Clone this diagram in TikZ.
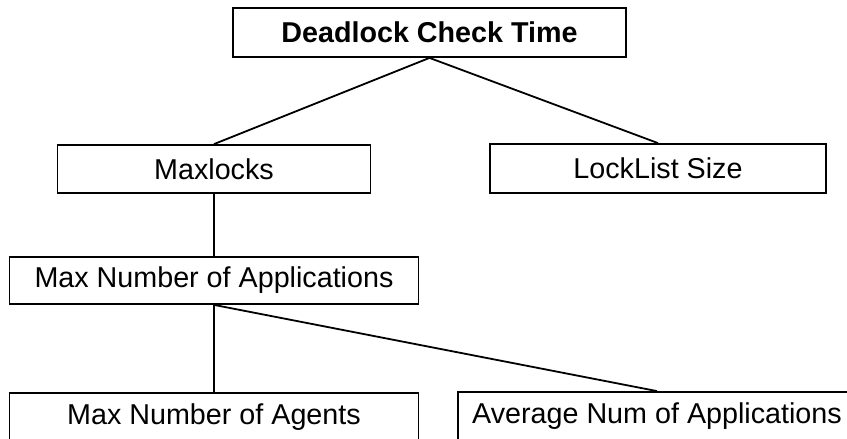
\documentclass[tikz,border=0pt]{standalone}
\usepackage{fontspec}
\setmainfont{Liberation Sans}
\begin{document}
\begin{tikzpicture}[x=1pt,y=-1pt,
  box/.style={draw, line width=1.8pt, inner sep=0pt, rectangle,
    font=\fontsize{28.7}{32}\selectfont},
  link/.style={line width=1.8pt}]
\useasboundingbox (0,0) rectangle (847,439);
\fill[white] (0,0) rectangle (847,439);
\node[box, minimum width=393pt, minimum height=49pt, font=\fontsize{28.7}{32}\selectfont\bfseries] (top) at (429.5,32.5) {Deadlock Check Time};
\node[box, minimum width=313pt, minimum height=48pt] (maxlocks) at (214,169) {Maxlocks};
\node[box, minimum width=336pt, minimum height=49pt] (locklist) at (658,168.5) {LockList Size};
\node[box, minimum width=409pt, minimum height=47pt] (mna) at (214,280.5) {Max Number of Applications};
\node[box, minimum width=409pt, minimum height=48pt] (agents) at (214,417) {Max Number of Agents};
\node[box, minimum width=398pt, minimum height=48pt] (avg) at (657,416) {Average Num of Applications};
\draw[link] (top.south) -- (maxlocks.north);
\draw[link] (top.south) -- (locklist.north);
\draw[link] (maxlocks.south) -- (mna.north);
\draw[link] (mna.south) -- (agents.north);
\draw[link] (mna.south) -- (avg.north);
\end{tikzpicture}
\end{document}
